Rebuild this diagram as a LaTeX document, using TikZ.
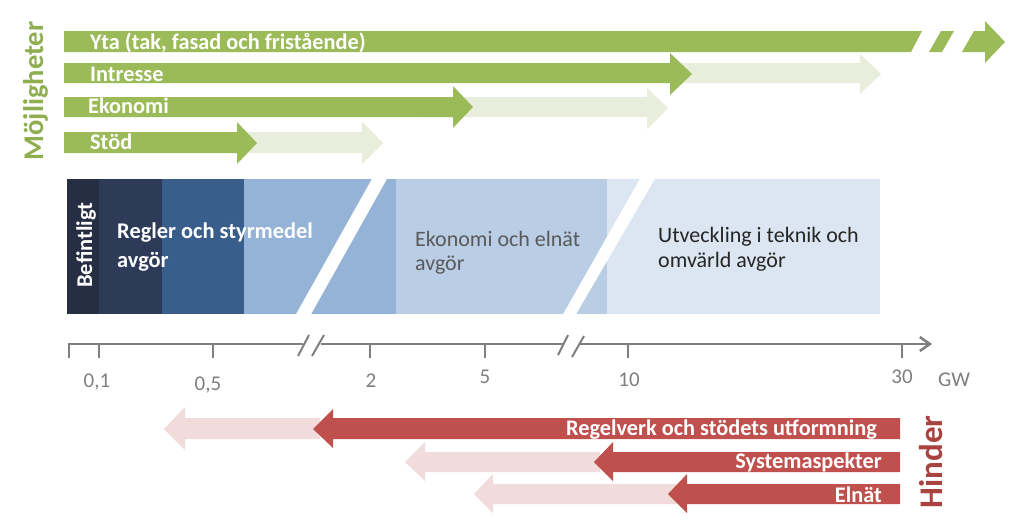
\documentclass[tikz,border=0pt]{standalone}
\usepackage{fontspec}
\setmainfont{Carlito}
\usetikzlibrary{arrows.meta}
\definecolor{grn}{HTML}{9BBB59}
\definecolor{grnl}{HTML}{E8EEDB}
\definecolor{rd}{HTML}{C0504D}
\definecolor{rdl}{HTML}{F2DCDB}
\definecolor{hintxt}{HTML}{A8433F}
\definecolor{mojtxt}{HTML}{8FAE50}
\definecolor{bA}{HTML}{252E42}
\definecolor{bB}{HTML}{2D3B58}
\definecolor{bC}{HTML}{3A5E8C}
\definecolor{bD}{HTML}{95B3D7}
\definecolor{bE}{HTML}{B9CDE5}
\definecolor{bF}{HTML}{DCE6F2}
\definecolor{axc}{HTML}{7F7F7F}
\definecolor{gtxt}{HTML}{5A5A5A}
\definecolor{dtxt}{HTML}{262626}
\begin{document}
\begin{tikzpicture}[x=1pt,y=-1pt,
  wlab/.style={inner sep=0, text=white, font=\fontsize{22.3}{26}\selectfont\bfseries},
  bandtxt/.style={inner sep=0, font=\fontsize{22}{27}\selectfont, anchor=base west},
  bandbold/.style={bandtxt, font=\fontsize{22.4}{27}\selectfont\bfseries},
  axlab/.style={inner sep=0, text=axc, font=\fontsize{21}{25}\selectfont, anchor=base},
  axline/.style={draw=axc, line width=2.5pt},
  brk/.style={draw=axc, line width=2pt},
  sidelab/.style={inner sep=0, rotate=90, anchor=base, font=\bfseries},
  ]
\useasboundingbox (0,0) rectangle (1024,531);
\fill[white] (0,0) rectangle (1024,531);

% ---------- green arrows (Möjligheter) ----------
\fill[grn] (64,31) -- (922,31) -- (911,52) -- (64,52) -- cycle;
\fill[grn] (941,31) -- (954,31) -- (942,52) -- (929,52) -- cycle;
\fill[grn] (974,31) -- (985,31) -- (985,21) -- (1005,42) -- (985,63) -- (985,52) -- (962,52) -- cycle;

\fill[grnl] (660,63) -- (860,63) -- (860,54) -- (881,74) -- (860,94) -- (860,83) -- (660,83) -- cycle;
\fill[grn] (64,63) -- (670,63) -- (670,53) -- (692,74) -- (670,95) -- (670,83) -- (64,83) -- cycle;

\fill[grnl] (422,97) -- (647,97) -- (647,88) -- (668,108) -- (647,129) -- (647,117) -- (422,117) -- cycle;
\fill[grn] (64,97) -- (453,97) -- (453,86) -- (473,107) -- (453,128) -- (453,117) -- (64,117) -- cycle;

\fill[grnl] (230,132) -- (362,132) -- (362,122) -- (383,143) -- (362,164) -- (362,153) -- (230,153) -- cycle;
\fill[grn] (64,132) -- (237,132) -- (237,122) -- (257,143) -- (237,164) -- (237,153) -- (64,153) -- cycle;

\node[wlab, anchor=base west] (yta) at (90,49) {Yta (tak, fasad och fristående)};
\node[wlab, anchor=base west] (intr) at (90,81) {Intresse};
\node[wlab, anchor=base west] (ekon) at (88,113) {Ekonomi};
\node[wlab, anchor=base west] (stod) at (90,149) {Stöd};

\node[sidelab, text=mojtxt, font=\fontsize{28.5}{32}\selectfont\bfseries] (moj) at (43,91) {Möjligheter};

% ---------- band ----------
\fill[bA] (67,179) rectangle (99,314);
\fill[bB] (99,179) rectangle (162,314);
\fill[bC] (162,179) rectangle (244,314);
\fill[bD] (244,179) rectangle (396,314);
\fill[bE] (396,179) rectangle (607,314);
\fill[bF] (607,179) rectangle (880,314);
\fill[white] (295,316) -- (310,316) -- (388,177) -- (373,177) -- cycle;
\fill[white] (562,316) -- (575,316) -- (656,177) -- (641,177) -- cycle;

\node[sidelab, text=white, font=\fontsize{22.5}{26}\selectfont\bfseries] (bef) at (92,245) {Befintligt};
\node[bandbold, text=white] (regA) at (117,238) {Regler och styrmedel};
\node[bandbold, text=white] (regB) at (117,267) {avgör};
\node[bandtxt, text=gtxt] (ekA) at (415,246) {Ekonomi och elnät};
\node[bandtxt, text=gtxt] (ekB) at (415,270) {avgör};
\node[bandtxt, text=dtxt] (utA) at (658,242) {Utveckling i teknik och};
\node[bandtxt, text=dtxt] (utB) at (658,267) {omvärld avgör};

% ---------- axis ----------
\coordinate (a0) at (69,344);
\coordinate (a1) at (303,344);
\coordinate (a2) at (321,344);
\coordinate (a3) at (563,344);
\coordinate (a4) at (580,344);
\coordinate (a5) at (932,344);
\draw[axline] (a0) -- (a1);
\draw[axline] (a2) -- (a3);
\draw[axline, -{Straight Barb[length=10pt,width=14pt]}] (a4) -- (a5);
\foreach \x in {69,99,213,370,485,628,902} \draw[axline] (\x,343) -- (\x,358);
\draw[brk] (298,356) -- (309,335);
\draw[brk] (312,356) -- (324,335);
\draw[brk] (558,355) -- (568,335);
\draw[brk] (572,357) -- (584,336);

\node[axlab] (l01) at (97,387) {0,1};
\node[axlab] (l05) at (208,390) {0,5};
\node[axlab] (l2) at (371,387) {2};
\node[axlab] (l5) at (485,383) {5};
\node[axlab] (l10) at (629,386) {10};
\node[axlab] (l30) at (902,383) {30};
\node[axlab] (lgw) at (954,386) {GW};

% ---------- red arrows (Hinder) ----------
\fill[rdl] (320,418) -- (185,418) -- (185,407) -- (164,429) -- (185,450) -- (185,439) -- (320,439) -- cycle;
\fill[rd] (900,418) -- (333,418) -- (333,409) -- (313,429) -- (333,448) -- (333,439) -- (900,439) -- cycle;

\fill[rdl] (600,452) -- (425,452) -- (425,442) -- (405,462) -- (425,481) -- (425,472) -- (600,472) -- cycle;
\fill[rd] (900,452) -- (613,452) -- (613,442) -- (594,462) -- (613,481) -- (613,472) -- (900,472) -- cycle;

\fill[rdl] (680,484) -- (493,484) -- (493,474) -- (474,494) -- (493,513) -- (493,504) -- (680,504) -- cycle;
\fill[rd] (900,484) -- (687,484) -- (687,474) -- (668,494) -- (687,513) -- (687,504) -- (900,504) -- cycle;

\node[wlab, anchor=base east] (regv) at (877,435) {Regelverk och stödets utformning};
\node[wlab, anchor=base east] (sys) at (882,468) {Systemaspekter};
\node[wlab, anchor=base east] (eln) at (882,502) {Elnät};

\node[sidelab, text=hintxt, font=\fontsize{33}{38}\selectfont\bfseries] (hin) at (942,462) {Hinder};
\end{tikzpicture}
\end{document}
